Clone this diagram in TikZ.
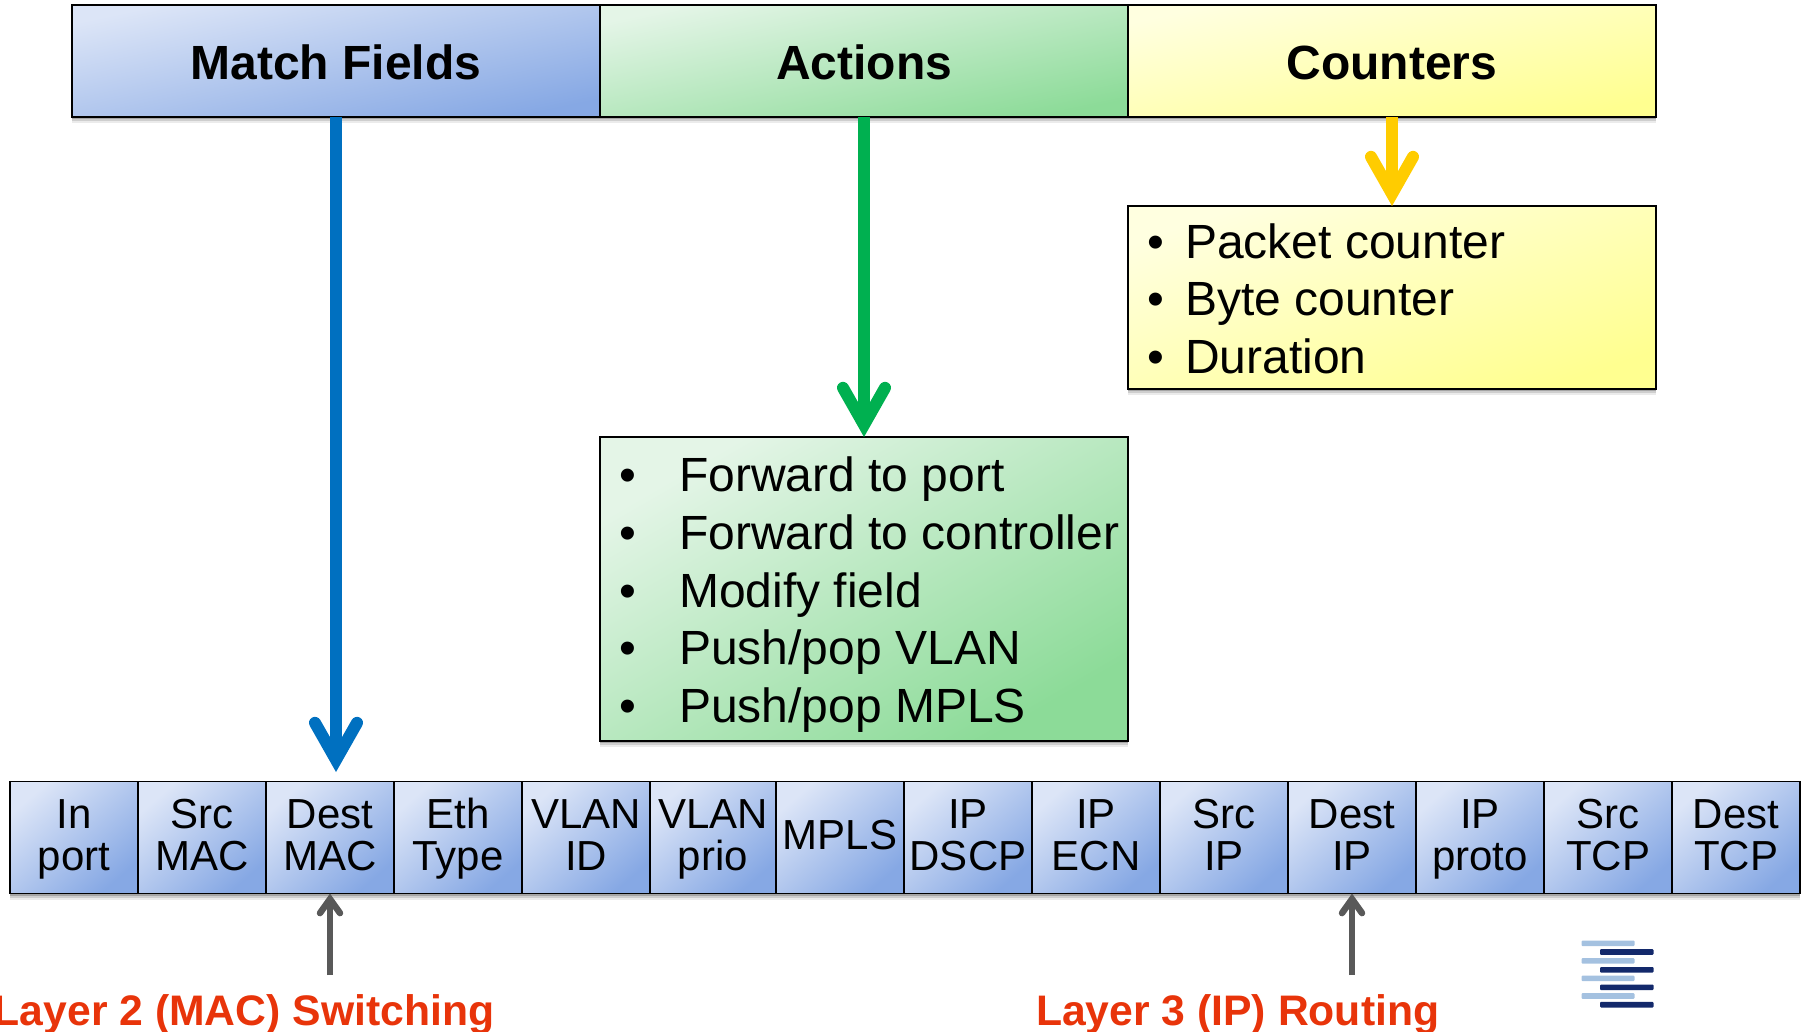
\documentclass[tikz,border=0pt]{standalone}
\usepackage{fontspec}
\setmainfont{Liberation Sans}
\usetikzlibrary{arrows.meta}
\definecolor{blueA}{HTML}{DCE5F7}
\definecolor{blueB}{HTML}{86A8E4}
\definecolor{greenA}{HTML}{E4F5E7}
\definecolor{greenB}{HTML}{8CDB98}
\definecolor{yelA}{HTML}{FFFFE0}
\definecolor{yelB}{HTML}{FFFF90}
\definecolor{arrBlue}{HTML}{0070C0}
\definecolor{arrGreen}{HTML}{00B050}
\definecolor{arrYel}{HTML}{FFCC00}
\definecolor{arrGray}{HTML}{595959}
\definecolor{labRed}{HTML}{E8340A}
\definecolor{logoL}{HTML}{A4C1E0}
\definecolor{logoD}{HTML}{13296B}
\newcommand\cs{\rule{0pt}{32.5pt}\rule[-9.5pt]{0pt}{0pt}}
\tikzset{
  softshadow/.style={
    preaction={fill=black,fill opacity=.08,transform canvas={yshift=-6pt}},
    preaction={fill=black,fill opacity=.12,transform canvas={yshift=-4pt}},
    preaction={fill=black,fill opacity=.2,transform canvas={yshift=-2pt}}},
  box/.style={draw=black,line width=1.8pt,inner sep=0pt,outer sep=0pt,anchor=center,softshadow},
  fillblue/.style={shading=axis,left color=blueA,right color=blueB,shading angle=#1},
  fillgreen/.style={shading=axis,left color=greenA,right color=greenB,shading angle=#1},
  fillyel/.style={shading=axis,left color=yelA,right color=yelB,shading angle=#1},
  header/.style={box,minimum width=528pt,minimum height=112pt,text height=39pt,text depth=1pt,
    font=\fontsize{48}{57}\selectfont\bfseries},
  cell/.style={box,fillblue=41,minimum height=112pt,align=center,
    font=\fontsize{42}{42}\selectfont},
  listtext/.style={anchor=base west,inner sep=0pt,font=\fontsize{48}{57}\selectfont},
  layerlabel/.style={anchor=base east,inner sep=0pt,text=labRed,font=\fontsize{42.7}{50}\selectfont\bfseries},
  bigarrow/.style={line width=12pt,
    preaction={draw=black,draw opacity=.18,transform canvas={yshift=-3pt}},
    -{Straight Barb[line cap=round,line join=miter,length=37pt,width=42pt,line width=12pt]}},
  grayarrow/.style={line width=6.5pt,draw=arrGray,
    -{Straight Barb[line cap=round,line join=miter,length=14pt,width=20pt,line width=6.5pt]}},
  logolight/.style={fill=logoL,draw=none},
  logodark/.style={fill=logoD,draw=none}
}
\begin{document}
\begin{tikzpicture}[x=1pt,y=-1pt]
\useasboundingbox (0,0) rectangle (1806,1032);
% headers
\node[header,fillblue=12] (match) at (336,61) {Match Fields};
\node[header,fillgreen=12] (actions) at (864,61) {Actions};
\node[header,fillyel=12] (counters) at (1392,61) {Counters};
% list boxes
\node[box,fillgreen=30,minimum width=528pt,minimum height=304pt] (actbox) at (864,589) {};
\node[box,fillyel=19,minimum width=528pt,minimum height=183pt] (cntbox) at (1392,297.5) {};
\foreach \n/\y/\t in {a/491/{Forward to port},b/549.5/{Forward to controller},c/607/{Modify field},d/664.5/{Push/pop VLAN},e/722/{Push/pop MPLS}}{
  \node[listtext] (bul\n) at (619,\y) {•};
  \node[listtext] (act\n) at (679,\y) {\t};
}
\foreach \n/\y/\t in {a/258.6/{Packet counter},b/315/{Byte counter},c/373/{Duration}}{
  \node[listtext] (cbul\n) at (1147,\y) {•};
  \node[listtext] (cnt\n) at (1185,\y) {\t};
}
% field cells
\foreach \n/\l/\r/\t in {
  c1/10/138/{\cs In\\\cs port},
  c2/138/266/{\cs Src\\\cs MAC},
  c3/266/394/{\cs Dest\\\cs MAC},
  c4/394/522/{\cs Eth\\\cs Type},
  c5/522/650/{\cs VLAN\\\cs ID},
  c6/650/776/{\cs VLAN\\\cs prio},
  c7/776/904/{\cs MPLS},
  c8/904/1032/{\cs IP\\\cs DSCP},
  c9/1032/1160/{\cs IP\\\cs ECN},
  c10/1160/1288/{\cs Src\\\cs IP},
  c11/1288/1416/{\cs Dest\\\cs IP},
  c12/1416/1544/{\cs IP\\\cs proto},
  c13/1544/1672/{\cs Src\\\cs TCP},
  c14/1672/1800/{\cs Dest\\\cs TCP}}{
  \pgfmathsetmacro\cx{(\l+\r)/2}
  \pgfmathsetmacro\cw{\r-\l}
  \node[cell,minimum width=\cw pt] (\n) at (\cx,837.5) {\t};
}
% labels
\node[layerlabel] (l2) at (494.5,1025) {Layer 2 (MAC) Switching};
\node[layerlabel] (l3) at (1439.5,1025) {Layer 3 (IP) Routing};
% connectors
\coordinate (bluetip) at (336,772);
\coordinate (l2tail) at (330,975);
\coordinate (l3tail) at (1352,975);
\draw[bigarrow,draw=arrBlue] (match.south) -- (bluetip);
\draw[bigarrow,draw=arrGreen] (actions.south) -- (actbox.north);
\draw[bigarrow,draw=arrYel] (counters.south) -- (cntbox.north);
\draw[grayarrow] (l2tail) -- (c3.south);
\draw[grayarrow] (l3tail) -- (c11.south);
% logo
\foreach \y in {943.3,960.9,978.4,996}{
  \fill[logolight,rounded corners=1pt] (1581.5,\y-2.8) rectangle (1634.5,\y+2.8);
}
\foreach \y in {952,969.8,987.3,1004.7}{
  \fill[logodark,rounded corners=1pt] (1600,\y-2.8) rectangle (1653.5,\y+2.8);
}
\end{tikzpicture}
\end{document}
